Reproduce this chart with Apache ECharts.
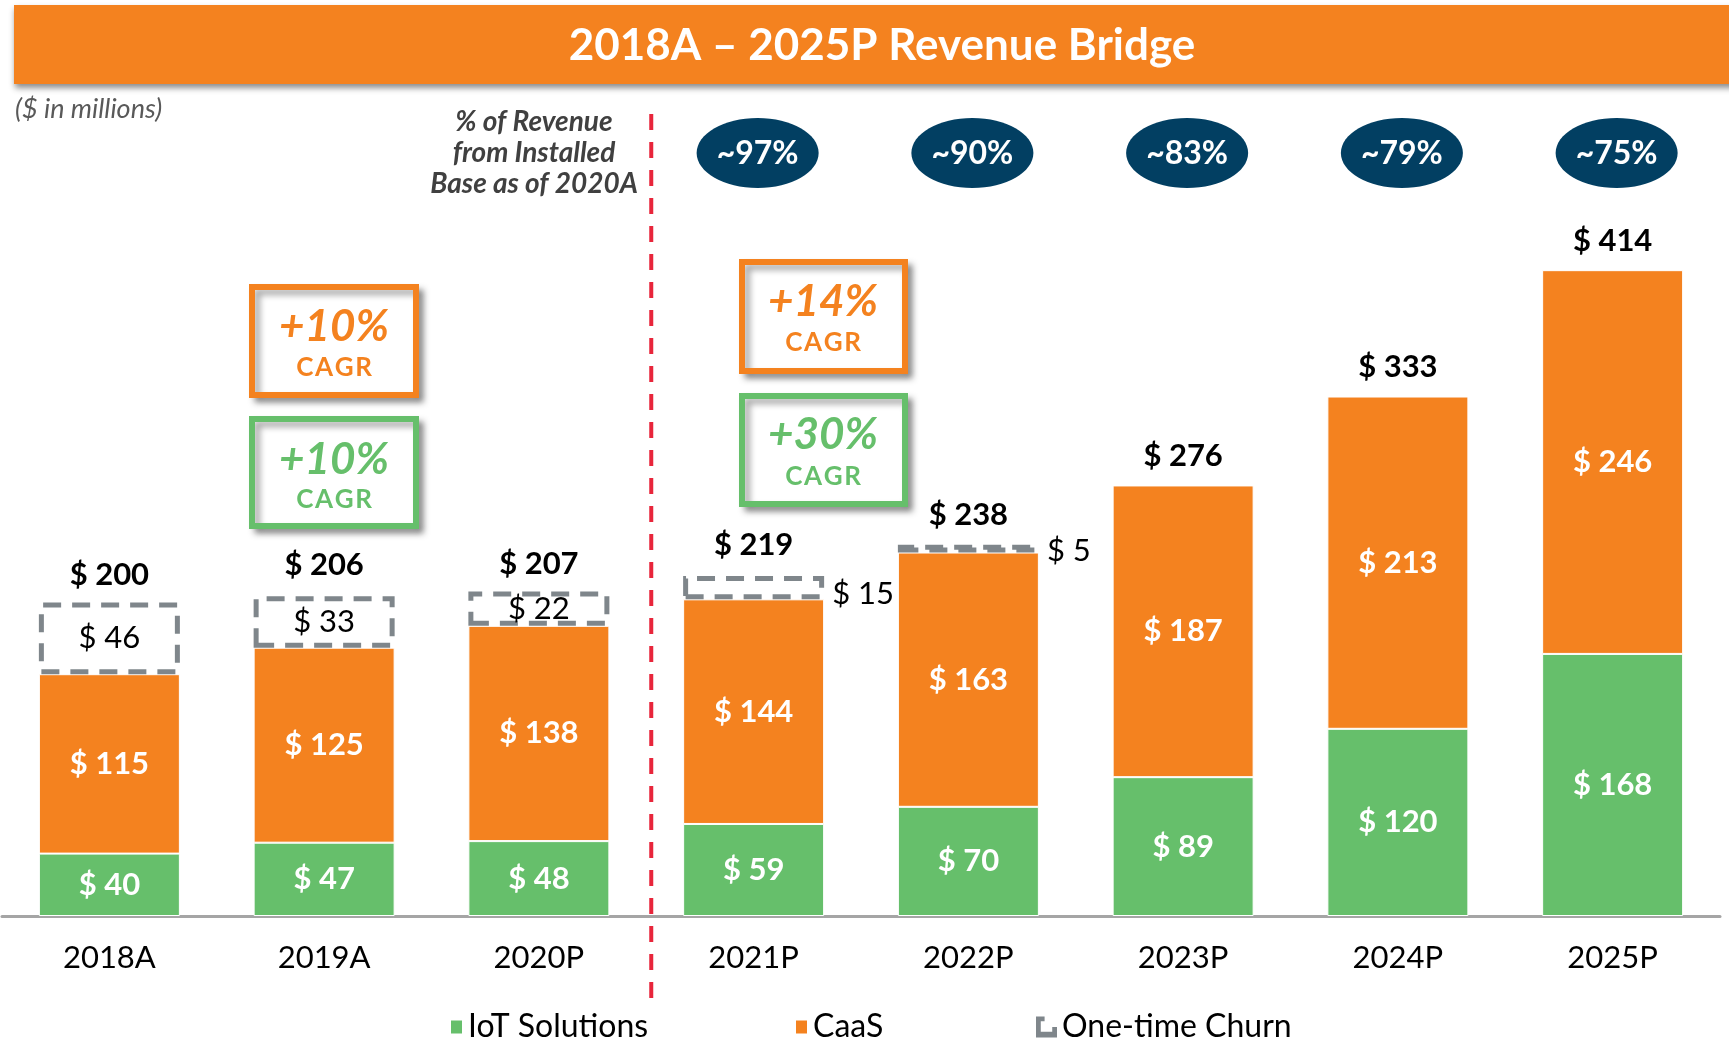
<!DOCTYPE html>
<html>
<head>
<meta charset="utf-8">
<script src="https://cdn.jsdelivr.net/npm/echarts@6/dist/echarts.min.js"></script>
<style>
  html, body { margin: 0; padding: 0; background: #ffffff; }
  #chart { width: 1729px; height: 1043px; }
</style>
</head>
<body>
<div id="chart"></div>
<script>
// Revenue bridge data ($ in millions)
const years = ['2018A', '2019A', '2020P', '2021P', '2022P', '2023P', '2024P', '2025P'];
const iotSolutions = [40, 47, 48, 59, 70, 89, 120, 168];
const caas = [115, 125, 138, 144, 163, 187, 213, 246];
const oneTimeChurn = [46, 33, 22, 15, 5, null, null, null];
const totalRevenue = [200, 206, 207, 219, 238, 276, 333, 414];

// Share of revenue from installed base as of 2020A
const installedBaseYears = ['2021P', '2022P', '2023P', '2024P', '2025P'];
const installedBaseShare = ['~97%', '~90%', '~83%', '~79%', '~75%'];

// CAGR call-outs: [CaaS, IoT] for 2018A–2020P and 2020P–2025P
const cagrEarly = ['+10%', '+10%'];
const cagrLate = ['+14%', '+30%'];

const ORANGE = '#f4821f';
const GREEN = '#66bf6b';
const NAVY = '#023f62';
const CHURN_GREY = '#7f868b';
const RED = '#e8253b';
const FONT = 'Lato';

const chart = echarts.init(document.getElementById('chart'));

const valueLabel = p => '$ ' + p.value;

const legendText = { fontSize: 32, color: '#000', fontFamily: FONT };

const option = {
  animation: false,
  textStyle: { fontFamily: FONT },
  grid: { left: 2, right: 9, top: 214, bottom: 127, containLabel: false },
  legend: [
    {
      data: [{ name: 'IoT Solutions', icon: 'rect' }],
      left: 444, top: 1006, itemWidth: 13, itemHeight: 15, itemGap: 0,
      textStyle: legendText, selectedMode: false
    },
    {
      data: [{ name: 'CaaS', icon: 'rect' }],
      left: 789, top: 1006, itemWidth: 13, itemHeight: 15, itemGap: 0,
      textStyle: legendText, selectedMode: false
    },
    {
      data: [{
        name: 'One-time Churn',
        icon: 'path://M0,0H9V5H5V16H17V11H22V22H0Z',
        itemStyle: { color: CHURN_GREY, borderWidth: 0 }
      }],
      left: 1031, top: 1006, itemWidth: 21, itemHeight: 21, itemGap: 0,
      textStyle: legendText, selectedMode: false
    }
  ],
  xAxis: {
    type: 'category',
    data: years,
    axisTick: { show: false },
    axisLine: { lineStyle: { color: '#a5a5a5', width: 3 } },
    axisLabel: { color: '#000', fontSize: 31, margin: 26, fontFamily: FONT }
  },
  yAxis: {
    type: 'value', min: 0, max: 450,
    show: false, splitLine: { show: false }
  },
  series: [
    {
      name: 'IoT Solutions', type: 'bar', stack: 'revenue', barWidth: 141,
      data: iotSolutions,
      itemStyle: { color: GREEN, borderColor: '#ffffff', borderWidth: 1 },
      label: {
        show: true, position: 'inside', formatter: valueLabel,
        color: '#fff', fontSize: 31, fontWeight: 'bold', fontFamily: FONT
      }
    },
    {
      name: 'CaaS', type: 'bar', stack: 'revenue', barWidth: 141,
      data: caas,
      itemStyle: { color: ORANGE, borderColor: '#ffffff', borderWidth: 1 },
      label: {
        show: true, position: 'inside', formatter: valueLabel,
        color: '#fff', fontSize: 31, fontWeight: 'bold', fontFamily: FONT
      }
    },
    {
      name: 'One-time Churn', type: 'bar', stack: 'revenue', barWidth: 141,
      // small churn boxes in the projection years carry their label on the right
      data: oneTimeChurn.map((v, i) => v == null ? '-' : {
        value: v,
        label: i >= 3
          ? { position: 'right', distance: 8, offset: [0, i === 3 ? 6 : 2] }
          : { position: 'inside' }
      }),
      itemStyle: {
        color: '#ffffff', borderColor: CHURN_GREY, borderWidth: 5,
        borderType: [18, 11]
      },
      label: {
        show: true, formatter: valueLabel,
        color: '#000', fontSize: 31, fontFamily: FONT
      }
    },
    {
      name: 'Total', type: 'bar', barWidth: 141, barGap: '-100%',
      data: totalRevenue, silent: true, z: 1,
      itemStyle: { color: 'rgba(0,0,0,0)' },
      label: {
        show: true, position: 'top', distance: 14, formatter: valueLabel,
        color: '#000', fontSize: 31, fontWeight: 'bold', fontFamily: FONT
      }
    }
  ]
};

chart.setOption(option);

function cagrBox(x, y, w, h, color, pct, cx, pctY, tagY) {
  return [
    {
      type: 'rect', shape: { x: x, y: y, width: w, height: h },
      style: {
        fill: '#fff', stroke: color, lineWidth: 6,
        shadowBlur: 6, shadowOffsetX: 5, shadowOffsetY: 5, shadowColor: 'rgba(0,0,0,0.35)'
      },
      z: 10
    },
    {
      type: 'text', x: cx, y: pctY, z: 11,
      style: {
        text: pct, fill: color, font: 'italic bold 44px ' + FONT,
        align: 'center', verticalAlign: 'middle'
      }
    },
    {
      type: 'text', x: cx, y: tagY, z: 11,
      style: {
        text: 'C A G R'.replace(/ /g, '\u200A'), fill: color, font: 'bold 26px ' + FONT,
        align: 'center', verticalAlign: 'middle'
      }
    }
  ];
}

function drawAnnotations() {
  const px = name => chart.convertToPixel({ xAxisIndex: 0 }, name);
  const dividerX = (px('2020P') + px('2021P')) / 2 + 5;

  const graphics = [
    // title band
    {
      type: 'rect', shape: { x: 14, y: 5, width: 1730, height: 79 },
      style: {
        fill: ORANGE, shadowBlur: 6, shadowOffsetY: 4, shadowOffsetX: 1,
        shadowColor: 'rgba(0,0,0,0.45)'
      },
      z: 5
    },
    {
      type: 'text', x: 882, y: 46, z: 6,
      style: {
        text: '2018A \u2013 2025P Revenue Bridge', fill: '#fff',
        font: 'bold 44px ' + FONT, align: 'center', verticalAlign: 'middle'
      }
    },
    {
      type: 'text', x: 15, y: 109, z: 6,
      style: {
        text: '($ in millions)', fill: '#595959',
        font: 'italic 27px ' + FONT, align: 'left', verticalAlign: 'middle'
      }
    },
    {
      type: 'text', x: 534, y: 106, z: 6,
      style: {
        text: '% of Revenue\nfrom Installed\nBase as of 2020A', fill: '#404040',
        font: 'italic bold 28px ' + FONT, align: 'center', verticalAlign: 'top',
        lineHeight: 31
      }
    },
    // divider between actuals and projections
    {
      type: 'line', z: 6,
      shape: { x1: dividerX, y1: 114, x2: dividerX, y2: 1002 },
      style: { stroke: RED, lineWidth: 4, lineDash: [16, 12] }
    }
  ];

  installedBaseYears.forEach((yr, i) => {
    const cx = px(yr) + 4;
    graphics.push({
      type: 'ellipse', z: 6, shape: { cx: cx, cy: 153, rx: 61, ry: 35 },
      style: { fill: NAVY }
    });
    graphics.push({
      type: 'text', x: cx, y: 154, z: 7,
      style: {
        text: installedBaseShare[i], fill: '#fff', font: 'bold 32px ' + FONT,
        align: 'center', verticalAlign: 'middle'
      }
    });
  });

  graphics.push(...cagrBox(252, 287, 164, 108, ORANGE, cagrEarly[0], 334, 327, 368));
  graphics.push(...cagrBox(252, 419, 164, 107, GREEN, cagrEarly[1], 334, 460, 500));
  graphics.push(...cagrBox(742, 262, 163, 109, ORANGE, cagrLate[0], 823, 302, 343));
  graphics.push(...cagrBox(742, 396, 163, 108, GREEN, cagrLate[1], 823, 435, 477));

  chart.setOption({ graphic: graphics });
}

drawAnnotations();
</script>
</body>
</html>
